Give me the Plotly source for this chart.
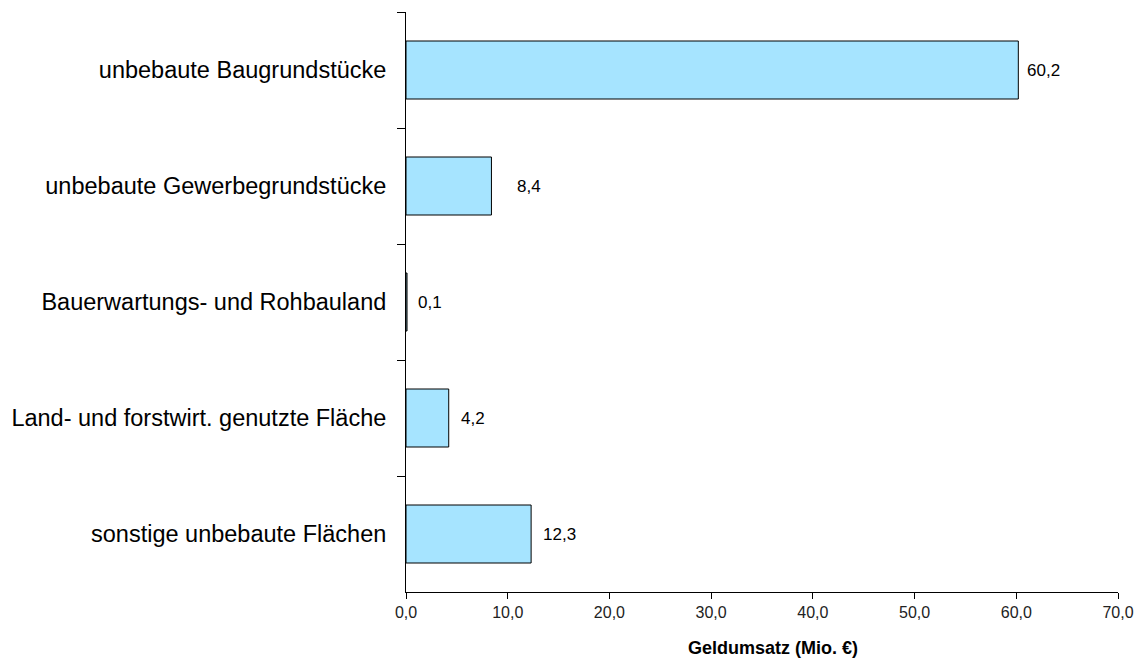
import plotly.graph_objects as go

# Geldumsatz unbebauter Flächen nach Teilmarkt (Mio. €)
categories = [
    "unbebaute Baugrundstücke",
    "unbebaute Gewerbegrundstücke",
    "Bauerwartungs- und Rohbauland",
    "Land- und forstwirt. genutzte Fläche",
    "sonstige unbebaute Flächen",
]
values = [60.2, 8.4, 0.1, 4.2, 12.3]
value_labels = ["60,2", "8,4", "0,1", "4,2", "12,3"]
x_ticks = [0, 10, 20, 30, 40, 50, 60, 70]

font_family = "Liberation Sans, Arial, sans-serif"
label_gap = [7, 24, 9, 10, 10]

fig = go.Figure(
    go.Bar(
        y=categories,
        x=values,
        orientation="h",
        width=0.5,
        marker=dict(color="#A6E4FF", line=dict(color="#000000", width=1)),
        hoverinfo="skip",
    )
)

for cat, val, txt, gap in zip(categories, values, value_labels, label_gap):
    fig.add_annotation(
        x=val, y=cat, text=txt, showarrow=False,
        xanchor="left", xshift=gap,
        font=dict(family=font_family, size=17, color="#000000"),
    )

fig.add_annotation(
    xref="paper", yref="paper", x=0.515, y=0, yshift=-44,
    text="<b>Geldumsatz (Mio. €)</b>", showarrow=False,
    xanchor="center", yanchor="top",
    font=dict(family=font_family, size=18, color="#000000"),
)

fig.update_layout(
    width=1140, height=660,
    margin=dict(l=406, r=22, t=12, b=68),
    paper_bgcolor="white", plot_bgcolor="white",
    separators=",.",
    showlegend=False,
    font=dict(family=font_family, color="#000000"),
)

fig.update_xaxes(
    range=[0, 70], tickvals=x_ticks, tickformat=".1f",
    automargin=False,
    showgrid=False, zeroline=False,
    showline=True, linecolor="#000000", linewidth=1,
    ticks="outside", ticklen=6, tickcolor="#000000",
    tickfont=dict(size=16, color="#222222"),
)

fig.update_yaxes(
    type="category", autorange="reversed",
    tickson="boundaries", automargin=False,
    showgrid=False, zeroline=False,
    showline=True, linecolor="#000000", linewidth=1,
    ticks="outside", ticklen=8, tickcolor="#000000",
    ticklabelstandoff=14,
    tickfont=dict(size=23.5, color="#000000"),
)

fig.write_html("out.html")
